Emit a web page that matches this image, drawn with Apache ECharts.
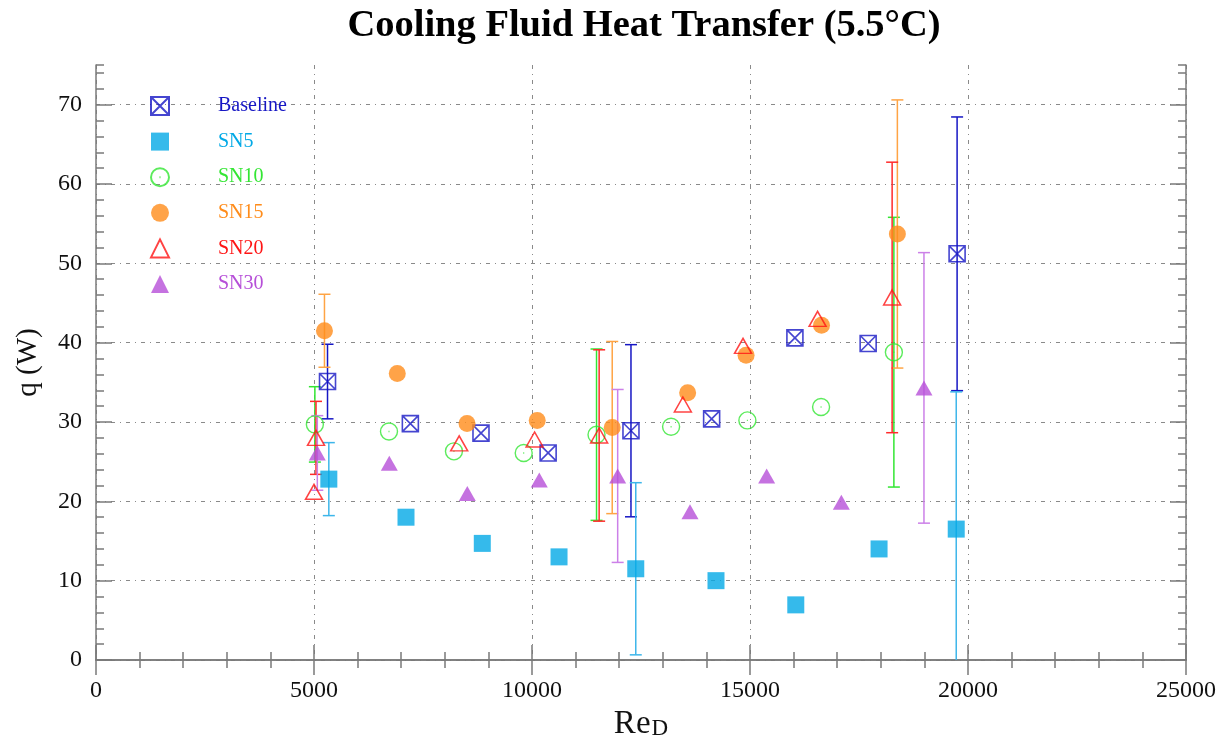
<!DOCTYPE html>
<html>
<head>
<meta charset="utf-8">
<script src="https://cdn.jsdelivr.net/npm/echarts@6/dist/echarts.min.js"></script>
<style>
  html, body { margin: 0; padding: 0; background: #ffffff; }
  #chart { width: 1231px; height: 740px; }
</style>
</head>
<body>
<div id="chart"></div>
<script>
// Reynolds number (Re_D) and heat transfer q (W) for each configuration.
// Error half-widths are given only where the error bar is drawn (null = none).
const seriesNames = ['Baseline', 'SN5', 'SN10', 'SN15', 'SN20', 'SN30'];

const baselineRe  = [5310, 7210, 8830, 10370, 12270, 14120, 16030, 17710, 19750];
const baselineQ   = [35.1, 29.8, 28.6, 26.1, 28.9, 30.4, 40.6, 39.9, 51.2];
const baselineErr = [4.7, null, null, null, 10.85, null, null, null, 17.25];

const sn5Re  = [5340, 7110, 8860, 10620, 12380, 14220, 16050, 17960, 19730];
const sn5Q   = [22.8, 18.0, 14.7, 13.0, 11.5, 10.0, 6.95, 14.0, 16.5];
const sn5Err = [4.6, null, null, null, 10.85, null, null, null, 17.3];

const sn10Re  = [5020, 6720, 8210, 9810, 11480, 13190, 14940, 16630, 18300];
const sn10Q   = [29.7, 28.8, 26.3, 26.1, 28.4, 29.4, 30.2, 31.9, 38.8];
const sn10Err = [4.75, null, null, null, 10.8, null, null, null, 17.0];

const sn15Re  = [5240, 6910, 8510, 10120, 11840, 13570, 14910, 16640, 18380];
const sn15Q   = [41.5, 36.1, 29.8, 30.2, 29.3, 33.7, 38.4, 42.2, 53.7];
const sn15Err = [4.6, null, null, null, 10.85, null, null, null, 16.9];

const sn20Re  = [5000, 5046, 8330, 10060, 11540, 13460, 14840, 16550, 18260];
const sn20Q   = [21.2, 28.0, 27.3, 27.8, 28.3, 32.2, 39.6, 43.0, 45.7];
const sn20Err = [null, 4.6, null, null, 10.8, null, null, null, 17.05];

const sn30Re  = [5076, 6727, 8516, 10167, 11965, 13624, 15382, 17095, 18990];
const sn30Q   = [26.1, 24.8, 21.0, 22.7, 23.2, 18.7, 23.2, 19.9, 34.3];
const sn30Err = [4.7, null, null, null, 10.9, null, null, null, 17.05];

const xTicks = [0, 5000, 10000, 15000, 20000, 25000];
const yTicks = [0, 10, 20, 30, 40, 50, 60, 70];

// ---- styling ----
const serif = '"Liberation Serif", "DejaVu Serif", serif';
const colors    = ['#1616c4', '#02a9e6', '#33e633', '#ff8c1a', '#ff1414', '#b64fd8'];
const errColors = ['#1616c4', '#3db6ea', '#33e633', '#ffa444', '#ff2a2a', '#cc80e8'];
const frameColor = '#7a7a7a';
const gridDash = { color: '#8a8a8a', width: 1, type: [4, 5, 1, 5] };

const crossedSquare = 'path://M0 0H20V20H0Z M0 0L20 20 M20 0L0 20';
const dottedCircle  = 'path://M10 0A10 10 0 1 1 10 20A10 10 0 1 1 10 0Z M9.4 10H10.6';

const groups = [
  { re: baselineRe, q: baselineQ, err: baselineErr },
  { re: sn5Re,  q: sn5Q,  err: sn5Err },
  { re: sn10Re, q: sn10Q, err: sn10Err },
  { re: sn15Re, q: sn15Q, err: sn15Err },
  { re: sn20Re, q: sn20Q, err: sn20Err },
  { re: sn30Re, q: sn30Q, err: sn30Err }
];

const markerStyles = [
  { symbol: crossedSquare, symbolSize: 16, itemStyle: { color: 'rgba(0,0,0,0)', borderColor: colors[0], borderWidth: 1.6 } },
  { symbol: 'rect',        symbolSize: 17, itemStyle: { color: colors[1] } },
  { symbol: dottedCircle,  symbolSize: 17, itemStyle: { color: 'rgba(0,0,0,0)', borderColor: colors[2], borderWidth: 1.4 } },
  { symbol: 'circle',      symbolSize: 17, itemStyle: { color: colors[3] } },
  { symbol: 'triangle',    symbolSize: [17, 15], itemStyle: { color: 'rgba(0,0,0,0)', borderColor: colors[4], borderWidth: 1.5 } },
  { symbol: 'triangle',    symbolSize: [17, 15], itemStyle: { color: colors[5] } }
];

function errorBarRenderer(color) {
  return function (params, api) {
    const x = api.value(0);
    const lo = api.coord([x, api.value(1)]);
    const hi = api.coord([x, api.value(2)]);
    const half = 6;
    const st = { stroke: color, lineWidth: 1.5 };
    return {
      type: 'group',
      children: [
        { type: 'line', shape: { x1: lo[0], y1: lo[1], x2: hi[0], y2: hi[1] }, style: st },
        { type: 'line', shape: { x1: lo[0] - half, y1: lo[1], x2: lo[0] + half, y2: lo[1] }, style: st },
        { type: 'line', shape: { x1: hi[0] - half, y1: hi[1], x2: hi[0] + half, y2: hi[1] }, style: st }
      ]
    };
  };
}

const series = [];
groups.forEach((g, i) => {
  const bars = [];
  g.re.forEach((x, k) => {
    if (g.err[k] != null) bars.push([x, g.q[k] - g.err[k], g.q[k] + g.err[k]]);
  });
  series.push({
    type: 'custom',
    name: seriesNames[i] + ' error',
    xAxisIndex: 0, yAxisIndex: 0,
    clip: true,
    silent: true,
    z: 2,
    renderItem: errorBarRenderer(errColors[i]),
    encode: { x: 0, y: [1, 2] },
    data: bars
  });
});
groups.forEach((g, i) => {
  series.push(Object.assign({
    type: 'scatter',
    name: seriesNames[i],
    xAxisIndex: 0, yAxisIndex: 0,
    z: 3 + i,
    data: g.re.map((x, k) => [x, g.q[k]])
  }, markerStyles[i]));
});

const yBase = { type: 'value', min: 0, max: 75, gridIndex: 0 };
const xBase = { type: 'value', min: 0, max: 25000, interval: 5000, gridIndex: 0 };
const plainNumber = v => String(v);

const option = {
  animation: false,
  backgroundColor: '#ffffff',
  title: {
    text: 'Cooling Fluid Heat Transfer (5.5\u00B0C)',
    left: 639, top: 2, textAlign: 'center',
    textStyle: { fontFamily: serif, fontWeight: 'bold', fontSize: 38.5, color: '#000' }
  },
  grid: { left: 96, right: 45, top: 65, bottom: 80, containLabel: false, outerBoundsMode: 'none' },
  legend: {
    orient: 'vertical', left: 150, top: 96, padding: 0,
    itemWidth: 18, itemHeight: 18, itemGap: 15.6,
    selectedMode: false,
    data: seriesNames.map((n, i) => ({ name: n, textStyle: { color: colors[i] } })),
    formatter: n => '{p|}' + n,
    textStyle: { fontFamily: serif, fontSize: 20, lineHeight: 18, rich: { p: { width: 44, lineHeight: 18 } } }
  },
  xAxis: [
    Object.assign({}, xBase, {
      position: 'bottom',
      name: '{a|Re}{b|D}', nameLocation: 'middle', nameGap: 40,
      nameTextStyle: {
        rich: {
          a: { fontFamily: serif, fontSize: 33, color: '#111', padding: [0, 1, 9, 0] },
          b: { fontFamily: serif, fontSize: 23, color: '#111' }
        }
      },
      axisLine: { show: true, lineStyle: { color: frameColor, width: 1.5 } },
      axisTick: { show: true, inside: true, length: 15, lineStyle: { color: frameColor, width: 1.5 } },
      minorTick: { show: true, splitNumber: 5, length: 8, lineStyle: { color: frameColor, width: 1.5 } },
      axisLabel: { fontFamily: serif, fontSize: 24, color: '#111', margin: 19, customValues: xTicks, formatter: plainNumber },
      splitLine: { show: true, lineStyle: gridDash }
    }),
    Object.assign({}, xBase, {
      position: 'top',
      axisLine: { show: true, lineStyle: { color: frameColor, width: 1.5 } },
      axisTick: { show: true, inside: true, length: 15, lineStyle: { color: frameColor, width: 1.5 } },
      minorTick: { show: true, splitNumber: 5, length: 8, lineStyle: { color: frameColor, width: 1.5 } },
      axisLabel: { show: false },
      splitLine: { show: false }
    })
  ],
  yAxis: [
    Object.assign({}, yBase, {
      position: 'left', interval: 10,
      name: 'q (W)', nameLocation: 'middle', nameGap: 53, nameRotate: 90,
      nameTextStyle: { fontFamily: serif, fontSize: 29, color: '#111' },
      axisLine: { show: true, lineStyle: { color: frameColor, width: 1.5 } },
      axisTick: { show: true, inside: true, length: 16, lineStyle: { color: frameColor, width: 1.5 }, customValues: yTicks },
      axisLabel: { fontFamily: serif, fontSize: 24, color: '#111', margin: 14, customValues: yTicks, formatter: plainNumber },
      splitLine: { show: true, lineStyle: gridDash }
    }),
    Object.assign({}, yBase, {
      position: 'left', interval: 2,
      axisLine: { show: false },
      axisTick: { show: true, inside: true, length: 8, lineStyle: { color: frameColor, width: 1.5 } },
      axisLabel: { show: false },
      splitLine: { show: false }
    }),
    Object.assign({}, yBase, {
      position: 'right', interval: 10,
      axisLine: { show: true, lineStyle: { color: frameColor, width: 1.5 } },
      axisTick: { show: true, inside: true, length: 16, lineStyle: { color: frameColor, width: 1.5 }, customValues: yTicks },
      axisLabel: { show: false },
      splitLine: { show: false }
    }),
    Object.assign({}, yBase, {
      position: 'right', interval: 2,
      axisLine: { show: false },
      axisTick: { show: true, inside: true, length: 8, lineStyle: { color: frameColor, width: 1.5 } },
      axisLabel: { show: false },
      splitLine: { show: false }
    })
  ],
  series: series
};

const chart = echarts.init(document.getElementById('chart'), null, { renderer: 'canvas' });
chart.setOption(option);
</script>
</body>
</html>
